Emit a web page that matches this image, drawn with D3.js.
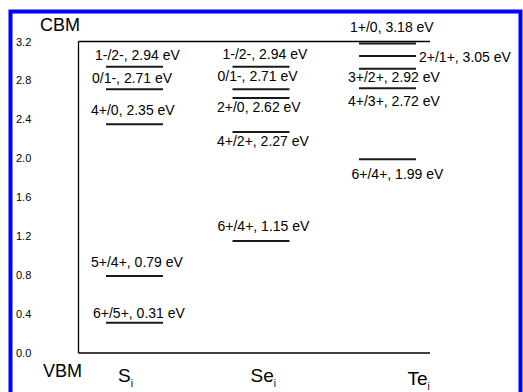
<!DOCTYPE html>
<html>
<head>
<meta charset="utf-8">
<script src="https://cdn.jsdelivr.net/npm/d3@7"></script>
<style>
  html, body { margin: 0; padding: 0; background: #fff; }
  svg { display: block; font-family: "Liberation Sans", Arial, Helvetica, sans-serif; }
</style>
</head>
<body>
<script>
// Defect transition levels (eV above the VBM) for each interstitial
const columns = ["S", "Se", "Te"];
const sLevels  = [2.94, 2.71, 2.35, 0.79, 0.31];
const sCharges = ["1-/2-", "0/1-", "4+/0", "5+/4+", "6+/5+"];
const seLevels  = [2.94, 2.71, 2.62, 2.27, 1.15];
const seCharges = ["1-/2-", "0/1-", "2+/0", "4+/2+", "6+/4+"];
const teLevels  = [3.18, 3.05, 2.92, 2.72, 1.99];
const teCharges = ["1+/0", "2+/1+", "3+/2+", "4+/3+", "6+/4+"];
const yTicks = [0.0, 0.4, 0.8, 1.2, 1.6, 2.0, 2.4, 2.8, 3.2];

// Label placement per level: dx from the left end of the bar, dy from the bar to the text baseline
const labelPlacement = {
  S:  [{dx: -11, dy: -6.5}, {dx: -14, dy: -6}, {dx: -15, dy: -9}, {dx: -15, dy: -9.5}, {dx: -13, dy: -5}],
  Se: [{dx: -10, dy: -7.5}, {dx: -15, dy: -8.5}, {dx: -15.5, dy: 14}, {dx: -15.5, dy: 13.5}, {dx: -15, dy: -10}],
  Te: [{dx: -9, dy: -11.5}, {dx: 60, dy: 6}, {dx: -11, dy: 13.5}, {dx: -11, dy: 18}, {dx: -7.5, dy: 20}]
};
const columnLabelOffset = { S: {dx: -16.5, y: 381.5}, Se: {dx: -10.5, y: 381.5}, Te: {dx: 20, y: 385} };

const levelSets = {
  S:  sLevels.map((v, i) => ({col: "S",  value: v, charge: sCharges[i], i})),
  Se: seLevels.map((v, i) => ({col: "Se", value: v, charge: seCharges[i], i})),
  Te: teLevels.map((v, i) => ({col: "Te", value: v, charge: teCharges[i], i}))
};
const allLevels = columns.flatMap(c => levelSets[c]);

const W = 523, H = 392;
const box = {left: 78.5, right: 430, top: 41.5, bottom: 353};
const barWidth = 57;

const svg = d3.select("body").append("svg").attr("width", W).attr("height", H);

// Blue frame, open at the bottom edge of the page
svg.append("rect")
  .attr("x", 10.5).attr("y", 11.5).attr("width", 510).attr("height", 420)
  .attr("fill", "#fff").attr("stroke", "#0000ff").attr("stroke-width", 4);

const y = d3.scaleLinear().domain([0, 3.2]).range([box.bottom, box.top]);
const x = d3.scalePoint().domain(columns).range([134.5, 387.5]);

// Energy axis labels at the far left
const yAxis = svg.append("g").attr("transform", "translate(16,0)")
  .call(d3.axisLeft(y).tickValues(yTicks).tickFormat(d3.format(".1f")).tickSize(0));
yAxis.select(".domain").remove();
yAxis.selectAll("text")
  .attr("x", 0).attr("text-anchor", "start")
  .attr("font-family", "Liberation Sans, Arial, sans-serif")
  .attr("font-size", 11).attr("fill", "#000");

// Frame of the plot: left, top and bottom edges
const frame = svg.append("g").attr("stroke", "#000").attr("stroke-width", 1.3).attr("fill", "none");
frame.append("line").attr("x1", box.left).attr("x2", box.left).attr("y1", box.top).attr("y2", box.bottom);
frame.append("line").attr("x1", box.left).attr("x2", box.right).attr("y1", box.top).attr("y2", box.top);
frame.append("line").attr("x1", box.left).attr("x2", box.right).attr("y1", box.bottom).attr("y2", box.bottom);

// Level bars
svg.append("g").selectAll("line").data(allLevels).join("line")
  .attr("x1", d => x(d.col) - barWidth / 2)
  .attr("x2", d => x(d.col) + barWidth / 2)
  .attr("y1", d => y(d.value)).attr("y2", d => y(d.value))
  .attr("stroke", "#1a1a1a").attr("stroke-width", 2);

// Level labels
svg.append("g").selectAll("text").data(allLevels).join("text")
  .attr("x", d => x(d.col) - barWidth / 2 + labelPlacement[d.col][d.i].dx)
  .attr("y", d => y(d.value) + labelPlacement[d.col][d.i].dy)
  .attr("font-size", 14).attr("fill", "#000")
  .text(d => `${d.charge}, ${d.value.toFixed(2)} eV`);

// Band edge labels
svg.append("text").attr("x", 40).attr("y", 31).attr("font-size", 18).attr("fill", "#000").text("CBM");
svg.append("text").attr("x", 43).attr("y", 377).attr("font-size", 18).attr("fill", "#000").text("VBM");

// Interstitial names with subscript i
const colLabels = svg.append("g").selectAll("text").data(columns).join("text")
  .attr("x", d => x(d) + columnLabelOffset[d].dx)
  .attr("y", d => columnLabelOffset[d].y)
  .attr("font-size", 19).attr("fill", "#000");
colLabels.append("tspan").attr("fill", "#000").text(d => d);
colLabels.append("tspan").attr("fill", "#000").attr("font-size", 10).attr("dy", 5).text("i");
</script>
</body>
</html>
